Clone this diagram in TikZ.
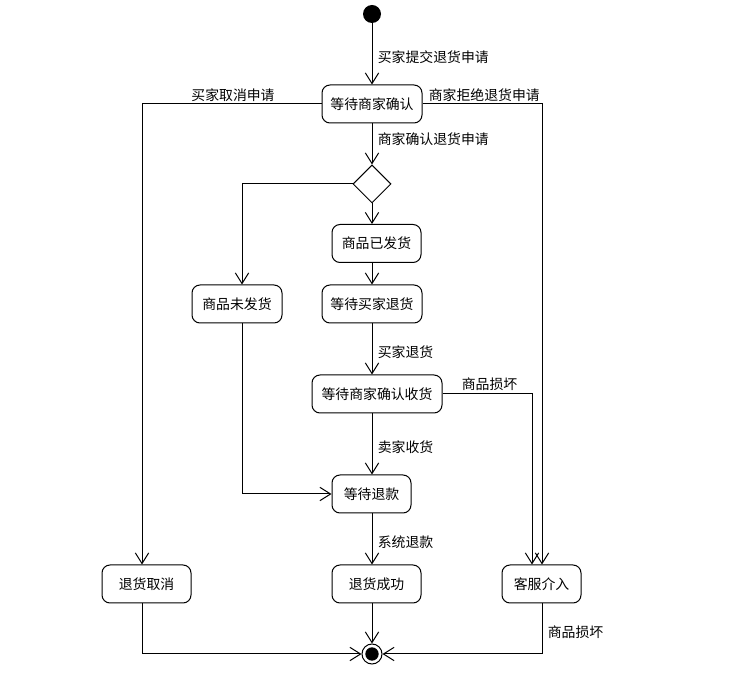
\documentclass[tikz,border=0pt]{standalone}
\usepackage{fontspec}
\setmainfont{Noto Sans CJK SC}
\usetikzlibrary{arrows.meta,shapes.geometric}
\tikzset{
  act/.style={draw, rounded corners=6pt, minimum height=28.5pt, inner xsep=4pt, font=\fontsize{10.4}{12}\selectfont},
  flow/.style={-{Straight Barb[length=8pt,width=10pt]}},
  lbl/.style={font=\fontsize{10.4}{12}\selectfont, inner sep=1pt}
}
\begin{document}
\begin{tikzpicture}[x=0.75pt,y=-0.75pt,line width=0.75pt]
            \useasboundingbox (0,0) rectangle (754,673);
            \node [circle, fill, inner sep=0pt, minimum size=13.5pt] (start) at (372,14) {};
            \node [act, minimum width=75pt] (confirm) at (372,104) {等待商家确认};
            \node [diamond, draw, inner sep=0pt, minimum size=28.5pt] (choice) at (372,184) {};
            \node [act, minimum width=66.75pt] (shipped) at (376.5,243.5) {商品已发货};
            \node [act, minimum width=75pt] (waitreturn) at (372,304) {等待买家退货};
            \node [act, minimum width=67.5pt] (notshipped) at (237,304) {商品未发货};
            \node [act, minimum width=97.5pt] (confirmrecv) at (377,394) {等待商家确认收货};
            \node [act, minimum width=59.25pt] (refundwait) at (371.5,494) {等待退款};
            \node [act, minimum width=66.75pt] (cancel) at (146.5,584) {退货取消};
            \node [act, minimum width=66.75pt] (success) at (376.5,584) {退货成功};
            \node [act, minimum width=59.25pt] (service) at (541.5,584) {客服介入};
            \node [circle, draw, inner sep=0pt, minimum size=15pt] (stop) at (372,654) {};
            \fill (stop) circle [radius=5pt];
            \draw [flow] (start) -- (confirm);
            \draw [flow] (confirm) -- (choice);
            \draw [flow] (choice.south) -- (choice.south |- shipped.north);
            \draw [flow] (shipped.south -| waitreturn) -- (waitreturn.north);
            \draw [flow] (choice.west) -| ([xshift=3.75pt]notshipped.north);
            \draw [flow] (waitreturn) -- (waitreturn |- confirmrecv.north);
            \draw [flow] (confirmrecv.south -| stop) -- (refundwait.north -| stop);
            \draw [flow] ([xshift=3.75pt]notshipped.south) |- (refundwait.west);
            \draw [flow] (refundwait.south -| stop) -- (success.north -| stop);
            \draw [flow] (confirm.west) -| ([xshift=-3.375pt]cancel.north);
            \draw [flow] (confirm.east) -| ([xshift=0.375pt]service.north);
            \draw [flow] (confirmrecv.east) -| ([xshift=-7.125pt]service.north);
            \draw [flow] ([xshift=-3.375pt]cancel.south) |- (stop.west);
            \draw [flow] (success.south -| stop) -- (stop.north);
            \draw [flow] ([xshift=0.375pt]service.south) |- (stop.east);
            \node [lbl, anchor=west] (lsubmit) at (376,57) {买家提交退货申请};
            \node [lbl] (lcancel) at (233,95) {买家取消申请};
            \node [lbl, anchor=west] (lrefuse) at (427,95) {商家拒绝退货申请};
            \node [lbl, anchor=west] (laccept) at (376,139) {商家确认退货申请};
            \node [lbl, anchor=west] (lsend) at (376,352) {买家退货};
            \node [lbl, anchor=west] (ldamage) at (460,384) {商品损坏};
            \node [lbl, anchor=west] (lrecv) at (376,447) {卖家收货};
            \node [lbl, anchor=west] (lrefund) at (376,542) {系统退款};
            \node [lbl, anchor=west] (ldamage2) at (546,632) {商品损坏};
        \end{tikzpicture}
\end{document}
